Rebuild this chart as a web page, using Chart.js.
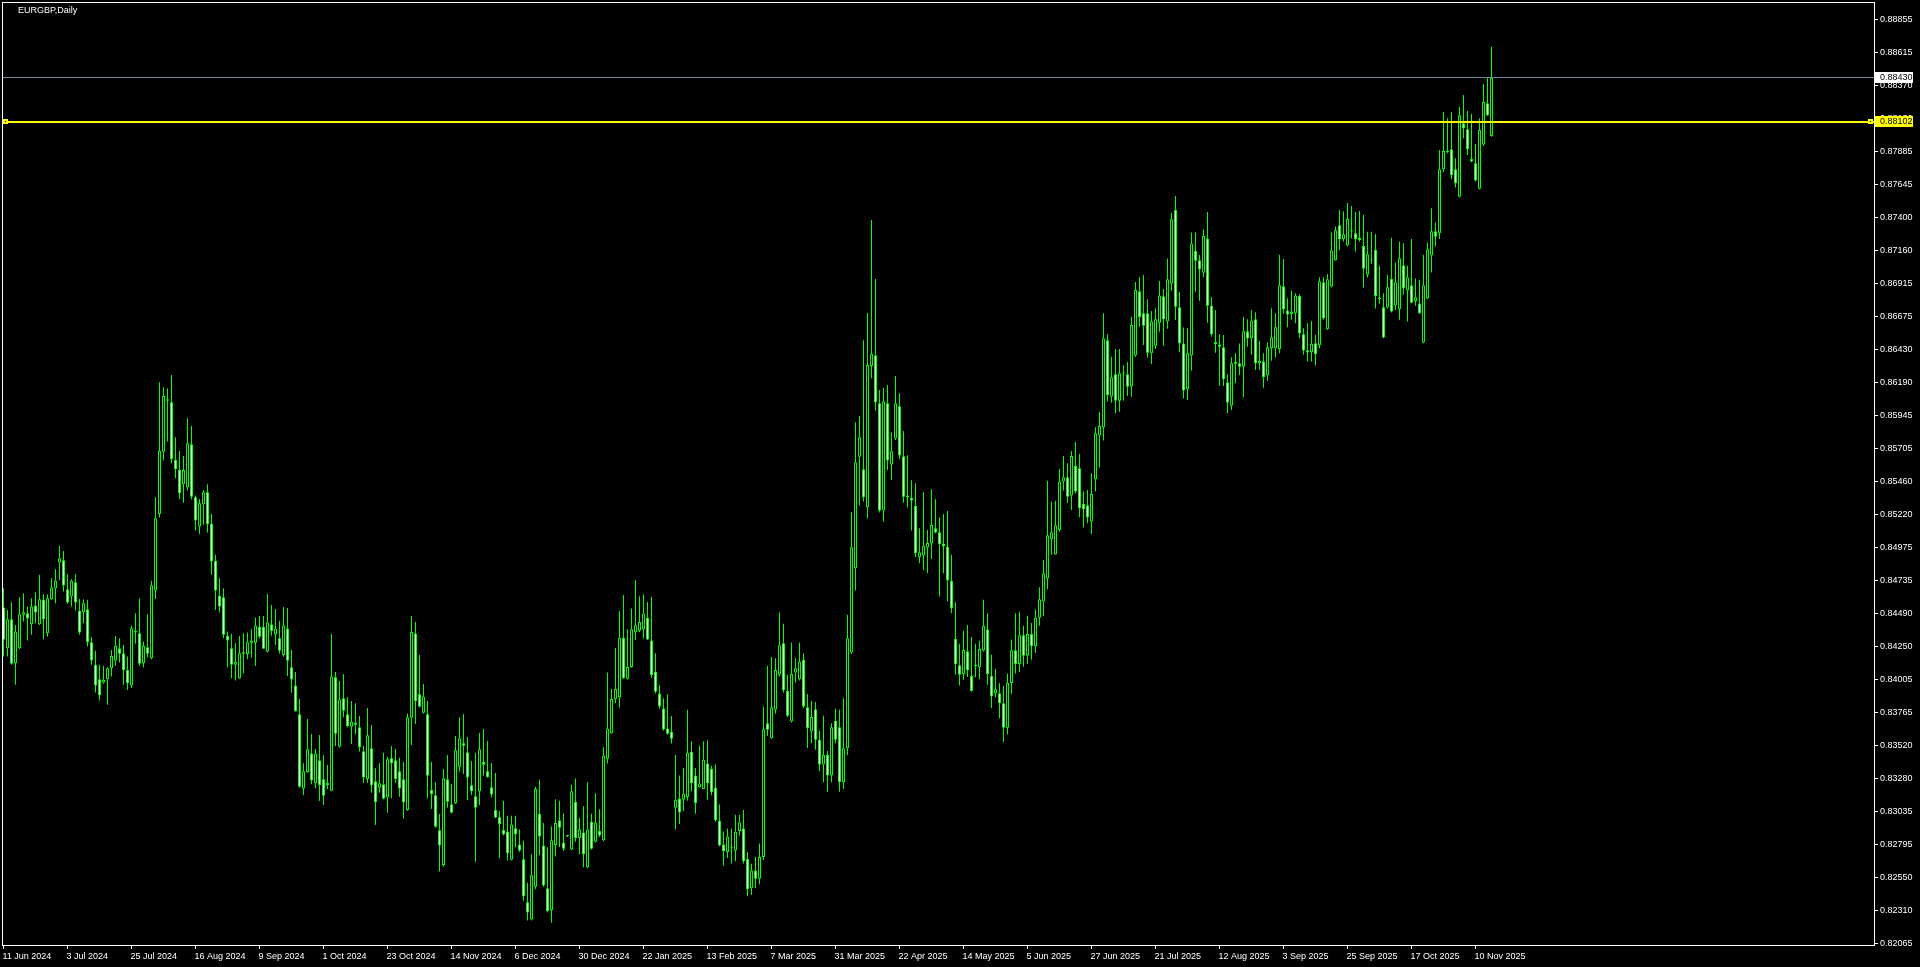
<!DOCTYPE html>
<html>
<head>
<meta charset="utf-8">
<title>EURGBP,Daily</title>
<script src="https://cdn.jsdelivr.net/npm/chart.js@4.4.1/dist/chart.umd.min.js"></script>
<style>
html, body { margin: 0; padding: 0; background: #000; overflow: hidden; }
canvas { display: block; }
</style>
</head>
<body>
<canvas id="chart" width="1920" height="967"></canvas>
<script>
const chartTitle = 'EURGBP,Daily';

// date labels under the chart, one every 16 daily bars
const dateLabels = ['11 Jun 2024', '3 Jul 2024', '25 Jul 2024', '16 Aug 2024', '9 Sep 2024', '1 Oct 2024',
    '23 Oct 2024', '14 Nov 2024', '6 Dec 2024', '30 Dec 2024', '22 Jan 2025', '13 Feb 2025', '7 Mar 2025',
    '31 Mar 2025', '22 Apr 2025', '14 May 2025', '5 Jun 2025', '27 Jun 2025', '21 Jul 2025', '12 Aug 2025',
    '3 Sep 2025', '25 Sep 2025', '17 Oct 2025', '10 Nov 2025'];
const barsPerLabel = 16;

// price scale labels on the right
const priceTicks = [0.88855, 0.88615, 0.88370, 0.88130, 0.87885, 0.87645, 0.87400, 0.87160, 0.86915, 0.86675,
    0.86430, 0.86190, 0.85945, 0.85705, 0.85460, 0.85220, 0.84975, 0.84735, 0.84490, 0.84250, 0.84005, 0.83765,
    0.83520, 0.83280, 0.83035, 0.82795, 0.82550, 0.82310, 0.82065];

const bidPrice = 0.88430;
const hlinePrice = 0.88102;

// daily OHLC
const opens = [
    0.84537,0.84236,0.84449,0.84125,0.84236,0.84481,0.84493,0.84412,0.84549,0.84412,
    0.84591,0.84346,0.84596,0.84674,0.84865,0.84883,0.84669,0.84615,0.84721,0.84510,
    0.84500,0.84522,0.84280,0.84113,0.84008,0.83983,0.84008,0.84089,0.84145,0.84236,
    0.84199,0.84076,0.83961,0.84363,0.84346,0.84125,0.84243,0.84162,0.84660,0.85223,
    0.85681,0.86066,0.86044,0.85620,0.85546,0.85441,0.85417,0.85735,0.85346,0.85130,
    0.85294,0.85382,0.85150,0.84878,0.84620,0.84611,0.84326,0.84236,0.84113,0.84015,
    0.84194,0.84192,0.84276,0.84276,0.84393,0.84393,0.84210,0.84411,0.84337,0.84308,
    0.84185,0.84381,0.84095,0.83962,0.83749,0.83203,0.83325,0.83462,0.83242,0.83411,
    0.83271,0.83230,0.83188,0.84021,0.83511,0.83867,0.83749,0.83658,0.83690,0.83654,
    0.83477,0.83274,0.83499,0.83257,0.83210,0.83235,0.83137,0.83426,0.83411,0.83330,
    0.83271,0.83046,0.83725,0.84344,0.83896,0.83761,0.83749,0.83193,0.83154,0.82897,
    0.82642,0.83271,0.83088,0.83095,0.83364,0.83536,0.83470,0.83227,0.83146,0.83181,
    0.83399,0.83330,0.83213,0.83046,0.82992,0.82898,0.82888,0.82679,0.82912,0.82792,
    0.82683,0.82368,0.82241,0.82481,0.83018,0.82785,0.82470,0.82309,0.82789,0.82970,
    0.82806,0.82854,0.82755,0.83104,0.82840,0.82881,0.82624,0.82960,0.82813,0.82891,
    0.82823,0.83422,0.83611,0.83860,0.83874,0.84312,0.84011,0.84097,0.84353,0.84364,
    0.84374,0.84460,0.84292,0.84062,0.83902,0.83792,0.83645,0.83621,0.83063,0.83131,
    0.83121,0.83141,0.83474,0.83299,0.83213,0.83200,0.83388,0.83347,0.83210,0.82967,
    0.82792,0.82737,0.82772,0.82748,0.82891,0.82909,0.82686,0.82470,0.82600,0.82540,
    0.82700,0.83684,0.83574,0.83782,0.84040,0.84272,0.83920,0.83697,0.84057,0.84008,
    0.84150,0.83802,0.83623,0.83787,0.83562,0.83380,0.83450,0.83300,0.83702,0.83655,
    0.83250,0.83500,0.84204,0.84824,0.85644,0.85551,0.85272,0.86310,0.86390,0.86036,
    0.85248,0.86036,0.85586,0.85777,0.86014,0.85647,0.85358,0.85341,0.85282,0.84905,
    0.84917,0.84976,0.85005,0.85118,0.85088,0.85003,0.84981,0.84731,0.84304,0.84111,
    0.84045,0.84214,0.84032,0.84101,0.84096,0.84219,0.84375,0.84032,0.83905,0.83905,
    0.83831,0.83650,0.83980,0.84220,0.84120,0.84330,0.84180,0.84340,0.84250,0.84460,
    0.84579,0.84748,0.85037,0.84924,0.85105,0.85461,0.85493,0.85358,0.85576,0.85559,
    0.85297,0.85287,0.85167,0.85478,0.85799,0.85858,0.86500,0.86085,0.86250,0.86056,
    0.86255,0.86250,0.86159,0.86387,0.86860,0.86698,0.86698,0.86404,0.86460,0.86629,
    0.86823,0.86637,0.86916,0.87457,0.86742,0.86477,0.86139,0.86387,0.87156,0.87088,
    0.86997,0.87249,0.86754,0.86487,0.86468,0.86448,0.86191,0.86019,0.86328,0.86330,
    0.86306,0.86566,0.86515,0.86655,0.86331,0.86344,0.86240,0.86442,0.86442,0.86434,
    0.86897,0.86719,0.86692,0.86699,0.86826,0.86545,0.86427,0.86412,0.86478,0.86464,
    0.86927,0.86581,0.86895,0.87091,0.87346,0.87245,0.87196,0.87309,0.87287,0.87253,
    0.87194,0.86981,0.87091,0.87164,0.86814,0.86743,0.86741,0.86951,0.86755,0.86728,
    0.87052,0.86866,0.86905,0.86787,0.86770,0.86483,0.86807,0.87123,0.87302,0.87287,
    0.87757,0.87882,0.87904,0.87757,0.87556,0.88095,0.88051,0.87833,0.87801,0.87615,
    0.87939,0.88242,0.88002
];
const highs = [
    0.84677,0.84517,0.84574,0.84407,0.84611,0.84640,0.84542,0.84603,0.84647,0.84775,
    0.84633,0.84633,0.84750,0.84816,0.84988,0.84951,0.84782,0.84743,0.84782,0.84598,
    0.84596,0.84591,0.84317,0.84216,0.84113,0.84106,0.84096,0.84223,0.84326,0.84309,
    0.84260,0.84174,0.84400,0.84493,0.84603,0.84285,0.84486,0.84731,0.85345,0.86191,
    0.86154,0.86147,0.86245,0.85787,0.85686,0.85649,0.85926,0.85870,0.85358,0.85333,
    0.85399,0.85441,0.85223,0.84922,0.84750,0.84677,0.84358,0.84341,0.84272,0.84326,
    0.84346,0.84351,0.84374,0.84462,0.84472,0.84472,0.84634,0.84553,0.84523,0.84435,
    0.84538,0.84531,0.84222,0.84060,0.83862,0.83389,0.83715,0.83605,0.83494,0.83597,
    0.83448,0.83377,0.84340,0.84060,0.83994,0.84046,0.83874,0.83847,0.83830,0.83737,
    0.83516,0.83796,0.83671,0.83352,0.83389,0.83467,0.83438,0.83516,0.83494,0.83431,
    0.83399,0.83756,0.84472,0.84428,0.84185,0.83972,0.83847,0.83399,0.83252,0.83017,
    0.83345,0.83450,0.83237,0.83590,0.83727,0.83752,0.83583,0.83406,0.83467,0.83612,
    0.83641,0.83553,0.83391,0.83318,0.83039,0.83114,0.83004,0.83004,0.83004,0.82902,
    0.82820,0.82511,0.82720,0.83217,0.83268,0.82950,0.82772,0.82926,0.83124,0.83114,
    0.83021,0.82860,0.83234,0.83278,0.82987,0.83073,0.83251,0.83018,0.83169,0.83052,
    0.83508,0.84056,0.83936,0.84237,0.84508,0.84627,0.84374,0.84528,0.84737,0.84617,
    0.84631,0.84576,0.84614,0.84199,0.83963,0.83867,0.83895,0.83737,0.83450,0.83299,
    0.83354,0.83782,0.83552,0.83354,0.83518,0.83552,0.83559,0.83371,0.83381,0.83087,
    0.82888,0.82909,0.82909,0.83011,0.83011,0.83046,0.82737,0.82650,0.82700,0.82800,
    0.83807,0.84106,0.84170,0.84162,0.84498,0.84415,0.84040,0.84277,0.84162,0.84277,
    0.84199,0.83898,0.83849,0.83839,0.83628,0.83738,0.83480,0.83684,0.83790,0.83782,
    0.83868,0.84481,0.85235,0.85897,0.85943,0.86500,0.86700,0.87384,0.86950,0.86134,
    0.86149,0.86171,0.85823,0.86237,0.86110,0.85833,0.85654,0.85471,0.85448,0.85118,
    0.85385,0.85105,0.85404,0.85333,0.85199,0.85223,0.85245,0.84922,0.84574,0.84268,
    0.84363,0.84407,0.84317,0.84268,0.84290,0.84591,0.84493,0.84187,0.84084,0.83979,
    0.83960,0.84050,0.84300,0.84493,0.84503,0.84400,0.84474,0.84420,0.84520,0.84684,
    0.84885,0.85466,0.85314,0.85319,0.85554,0.85649,0.85595,0.85686,0.85752,0.85664,
    0.85387,0.85399,0.85522,0.85860,0.85973,0.86698,0.86546,0.86379,0.86436,0.86436,
    0.86316,0.86340,0.86673,0.86928,0.86963,0.86980,0.86801,0.86715,0.86735,0.86936,
    0.86877,0.87102,0.87438,0.87560,0.86855,0.86593,0.86588,0.87293,0.87293,0.87127,
    0.87315,0.87443,0.86816,0.86722,0.86544,0.86539,0.86250,0.86375,0.86404,0.86477,
    0.86673,0.86654,0.86723,0.86706,0.86496,0.86405,0.86486,0.86736,0.86699,0.87128,
    0.87098,0.86809,0.86866,0.86846,0.86839,0.86589,0.86625,0.86643,0.86540,0.86964,
    0.86964,0.86988,0.87292,0.87336,0.87458,0.87449,0.87510,0.87488,0.87444,0.87451,
    0.87422,0.87297,0.87297,0.87282,0.87047,0.86846,0.86981,0.87253,0.87071,0.87226,
    0.87213,0.87047,0.87245,0.86954,0.86944,0.87128,0.87218,0.87471,0.87365,0.87899,
    0.88179,0.88132,0.88176,0.87838,0.88216,0.88304,0.88186,0.88164,0.87944,0.88132,
    0.88385,0.88434,0.88659
];
const lows = [
    0.84174,0.84174,0.84113,0.83966,0.84230,0.84432,0.84292,0.84334,0.84419,0.84407,
    0.84302,0.84321,0.84591,0.84566,0.84738,0.84652,0.84562,0.84542,0.84513,0.84334,
    0.84419,0.84248,0.84113,0.83910,0.83851,0.83974,0.83819,0.84027,0.84106,0.84130,
    0.83966,0.83929,0.83942,0.84268,0.84106,0.84094,0.84167,0.84155,0.84598,0.85196,
    0.85615,0.85755,0.85595,0.85485,0.85331,0.85306,0.85395,0.85331,0.85101,0.85076,
    0.85142,0.85086,0.84775,0.84517,0.84498,0.84309,0.84096,0.84015,0.83998,0.84010,
    0.84052,0.84155,0.84168,0.84104,0.84308,0.84229,0.84205,0.84327,0.84259,0.84197,
    0.84173,0.84031,0.83908,0.83769,0.83210,0.83156,0.83320,0.83235,0.83205,0.83112,
    0.83083,0.83198,0.83183,0.83516,0.83506,0.83727,0.83654,0.83531,0.83605,0.83475,
    0.83247,0.83247,0.83173,0.82936,0.83173,0.83124,0.83026,0.83132,0.83247,0.83144,
    0.82982,0.83041,0.83524,0.83678,0.83801,0.83756,0.83132,0.83053,0.82916,0.82593,
    0.82629,0.83063,0.83021,0.83090,0.83328,0.83311,0.83119,0.83156,0.82666,0.83083,
    0.83298,0.83284,0.83137,0.82985,0.82691,0.82858,0.82676,0.82676,0.82772,0.82737,
    0.82378,0.82234,0.82234,0.82463,0.82713,0.82481,0.82292,0.82217,0.82703,0.82772,
    0.82744,0.82848,0.82750,0.82813,0.82720,0.82624,0.82618,0.82755,0.82806,0.82847,
    0.82818,0.83388,0.83606,0.83833,0.83799,0.84011,0.84006,0.84092,0.84295,0.84353,
    0.84306,0.84295,0.84018,0.83902,0.83792,0.83628,0.83600,0.83535,0.82902,0.82943,
    0.83039,0.83114,0.83183,0.83018,0.83210,0.83200,0.83121,0.83155,0.82960,0.82779,
    0.82635,0.82693,0.82652,0.82669,0.82858,0.82652,0.82412,0.82420,0.82470,0.82500,
    0.82680,0.83591,0.83569,0.83753,0.84027,0.83910,0.83729,0.83689,0.83983,0.83998,
    0.83795,0.83501,0.83537,0.83488,0.83330,0.83250,0.83180,0.83250,0.83537,0.83180,
    0.83200,0.83450,0.84194,0.84660,0.85284,0.85314,0.85189,0.86220,0.85983,0.85233,
    0.85167,0.85546,0.85473,0.85767,0.85625,0.85306,0.85270,0.85101,0.84905,0.84860,
    0.84811,0.84787,0.84892,0.85081,0.84615,0.84787,0.84579,0.84493,0.84040,0.83961,
    0.84003,0.84023,0.83917,0.84020,0.84008,0.84211,0.83966,0.83795,0.83873,0.83721,
    0.83545,0.83600,0.83900,0.84050,0.84060,0.84100,0.84120,0.84150,0.84200,0.84400,
    0.84473,0.84669,0.84922,0.84922,0.85093,0.85395,0.85306,0.85252,0.85375,0.85199,
    0.85123,0.85154,0.85076,0.85387,0.85564,0.85762,0.86049,0.86041,0.85963,0.85975,
    0.86056,0.86090,0.86085,0.86379,0.86600,0.86465,0.86372,0.86326,0.86436,0.86563,
    0.86460,0.86585,0.86865,0.86649,0.86411,0.86071,0.86061,0.86277,0.86857,0.86791,
    0.86963,0.86629,0.86526,0.86409,0.86166,0.86164,0.85963,0.85987,0.86183,0.86245,
    0.86081,0.86453,0.86393,0.86282,0.86282,0.86150,0.86200,0.86349,0.86373,0.86405,
    0.86694,0.86596,0.86650,0.86625,0.86515,0.86393,0.86344,0.86344,0.86314,0.86442,
    0.86650,0.86576,0.86890,0.87086,0.87164,0.87226,0.87190,0.87250,0.87152,0.87226,
    0.86888,0.86961,0.87062,0.86733,0.86768,0.86515,0.86736,0.86704,0.86723,0.86650,
    0.86834,0.86638,0.86772,0.86753,0.86694,0.86478,0.86804,0.86998,0.87189,0.87245,
    0.87735,0.87875,0.87686,0.87623,0.87551,0.87985,0.87863,0.87809,0.87669,0.87610,
    0.87929,0.88149,0.87997
];
const closes = [
    0.84297,0.84449,0.84121,0.84358,0.84486,0.84500,0.84454,0.84542,0.84498,0.84596,
    0.84449,0.84603,0.84682,0.84731,0.84897,0.84696,0.84571,0.84731,0.84571,0.84351,
    0.84566,0.84280,0.84145,0.83961,0.83890,0.84003,0.84089,0.84179,0.84253,0.84194,
    0.84076,0.83978,0.84383,0.84351,0.84121,0.84253,0.84194,0.84699,0.85191,0.85686,
    0.86090,0.86056,0.85625,0.85551,0.85375,0.85546,0.85742,0.85350,0.85174,0.85301,
    0.85382,0.85147,0.84873,0.84660,0.84542,0.84334,0.84292,0.84113,0.84135,0.84199,
    0.84206,0.84280,0.84293,0.84403,0.84320,0.84232,0.84425,0.84362,0.84381,0.84217,
    0.84403,0.84144,0.84006,0.83774,0.83217,0.83330,0.83492,0.83262,0.83462,0.83230,
    0.83151,0.83244,0.84028,0.83607,0.83859,0.83776,0.83663,0.83695,0.83673,0.83507,
    0.83284,0.83595,0.83227,0.83102,0.83242,0.83129,0.83418,0.83389,0.83274,0.83203,
    0.83100,0.83727,0.84354,0.83845,0.83805,0.83881,0.83298,0.83161,0.82923,0.82784,
    0.83279,0.83107,0.83026,0.83485,0.83573,0.83519,0.83284,0.83183,0.83063,0.83492,
    0.83379,0.83286,0.83159,0.82990,0.82943,0.82868,0.82727,0.82939,0.82868,0.82748,
    0.82412,0.82292,0.82566,0.83200,0.82851,0.82491,0.82303,0.82823,0.82950,0.82915,
    0.82761,0.82854,0.83183,0.82840,0.82905,0.82720,0.82902,0.82761,0.82953,0.82858,
    0.83446,0.83645,0.83864,0.83936,0.84312,0.84015,0.84097,0.84374,0.84405,0.84429,
    0.84490,0.84299,0.84039,0.83915,0.83806,0.83638,0.83607,0.83569,0.83121,0.83028,
    0.83165,0.83467,0.83244,0.83097,0.83241,0.83415,0.83244,0.83176,0.82970,0.82785,
    0.82744,0.82851,0.82765,0.82885,0.82953,0.82669,0.82463,0.82600,0.82540,0.82700,
    0.83640,0.83635,0.83802,0.84076,0.84258,0.83925,0.83738,0.84045,0.84089,0.84138,
    0.83807,0.83648,0.83729,0.83562,0.83380,0.83450,0.83300,0.83655,0.83562,0.83250,
    0.83500,0.84309,0.84978,0.85603,0.85787,0.85346,0.86318,0.86400,0.86044,0.85248,
    0.86051,0.85615,0.85684,0.86036,0.85652,0.85350,0.85343,0.85321,0.84934,0.84941,
    0.84988,0.85010,0.85142,0.85086,0.85000,0.84983,0.84733,0.84530,0.84118,0.84040,
    0.84223,0.84074,0.83920,0.84113,0.84231,0.84400,0.84045,0.83880,0.83934,0.83831,
    0.83650,0.83980,0.84220,0.84120,0.84330,0.84180,0.84340,0.84250,0.84460,0.84596,
    0.84787,0.85066,0.85088,0.85140,0.85461,0.85493,0.85350,0.85649,0.85387,0.85265,
    0.85257,0.85196,0.85370,0.85816,0.85870,0.86514,0.86095,0.86228,0.86056,0.86257,
    0.86259,0.86159,0.86612,0.86869,0.86669,0.86607,0.86409,0.86639,0.86654,0.86830,
    0.86654,0.86948,0.87389,0.86747,0.86477,0.86130,0.86404,0.87212,0.87085,0.87021,
    0.87266,0.86754,0.86544,0.86470,0.86453,0.86213,0.86041,0.86330,0.86340,0.86306,
    0.86566,0.86512,0.86645,0.86331,0.86349,0.86230,0.86449,0.86523,0.86596,0.86905,
    0.86728,0.86689,0.86709,0.86829,0.86552,0.86425,0.86410,0.86474,0.86398,0.86934,
    0.86662,0.86949,0.87162,0.87309,0.87243,0.87280,0.87392,0.87299,0.87243,0.87238,
    0.87025,0.87133,0.87086,0.86826,0.86804,0.86520,0.86890,0.86711,0.86927,0.87103,
    0.86883,0.86964,0.86775,0.86817,0.86699,0.86905,0.87169,0.87302,0.87262,0.87757,
    0.87892,0.87892,0.87713,0.87654,0.88154,0.88059,0.87904,0.87814,0.87674,0.88046,
    0.88252,0.88154,0.88430
];

const FONT = '"Liberation Sans", Arial, sans-serif';
const LIME = '#00ff00';

// frame, title, bid line, horizontal line and their price boxes
const terminalOverlay = {
    id: 'terminalOverlay',
    afterDraw(chart) {
        const { ctx, chartArea: a, scales: { y } } = chart;
        ctx.save();

        // bid line
        const by = Math.floor(y.getPixelForValue(bidPrice));
        ctx.fillStyle = '#778899';
        ctx.fillRect(a.left, by, a.right - a.left, 1);

        // yellow horizontal line with anchor points
        const hy = Math.round(y.getPixelForValue(hlinePrice));
        ctx.fillStyle = '#ffff00';
        ctx.fillRect(a.left, hy - 1, a.right - a.left, 2);
        [a.left, a.right - 6].forEach(px => {
            ctx.fillStyle = '#ffff00';
            ctx.fillRect(px, hy - 3, 5, 5);
            ctx.fillStyle = '#000';
            ctx.fillRect(px + 2, hy - 1, 1, 1);
        });

        // frame
        ctx.fillStyle = '#ffffff';
        ctx.fillRect(a.left - 1, a.top - 1, a.right - a.left + 2, 1);
        ctx.fillRect(a.left - 1, a.bottom, a.right - a.left + 2, 1);
        ctx.fillRect(a.left - 1, a.top - 1, 1, a.bottom - a.top + 2);
        ctx.fillRect(a.right, a.top - 1, 1, a.bottom - a.top + 2);

        // price boxes on the scale
        ctx.font = '9px ' + FONT;
        ctx.textBaseline = 'middle';
        ctx.textAlign = 'left';
        [[bidPrice, by, '#ffffff'], [hlinePrice, hy - 1, '#ffff00']].forEach(([v, py, bg]) => {
            ctx.fillStyle = bg;
            ctx.fillRect(a.right + 1, py - 5, 38, 11);
            ctx.fillStyle = '#000';
            ctx.fillText(v.toFixed(5), a.right + 6, py + 0.5);
        });

        // symbol and timeframe
        ctx.fillStyle = '#ffffff';
        ctx.fillText(chartTitle, 18, 11);
        ctx.restore();
    }
};

const barIndex = closes.map((_, i) => i);

new Chart(document.getElementById('chart'), {
    type: 'bar',
    data: {
        datasets: [{
            label: 'bodies',
            data: barIndex.map(i => ({ x: i, y: [opens[i], closes[i]] })),
            backgroundColor: barIndex.map(i => closes[i] >= opens[i] ? '#000000' : '#ffffff'),
            borderColor: LIME,
            borderWidth: 1,
            borderSkipped: false,
            barThickness: 3,
            minBarLength: 1,
            inflateAmount: 0,
            grouped: false,
            order: 0
        }, {
            label: 'wicks',
            data: barIndex.map(i => ({ x: i, y: [lows[i], highs[i]] })),
            backgroundColor: LIME,
            borderWidth: 0,
            barThickness: 1,
            inflateAmount: 0,
            grouped: false,
            order: 1
        }]
    },
    options: {
        responsive: false,
        animation: false,
        devicePixelRatio: 1,
        events: [],
        layout: { padding: { left: 3, top: 3, right: 0, bottom: 0 } },
        plugins: { legend: { display: false }, tooltip: { enabled: false } },
        scales: {
            x: {
                type: 'linear',
                min: -0.125,
                max: 467.625,
                offset: false,
                afterBuildTicks: s => { s.ticks = dateLabels.map((_, k) => ({ value: k * barsPerLabel })); },
                afterFit: s => { s.height = 22; s.paddingLeft = 0; s.paddingRight = 0; },
                ticks: {
                    color: '#ffffff',
                    font: { family: FONT, size: 9 },
                    align: 'start',
                    labelOffset: -1,
                    padding: 2,
                    maxRotation: 0,
                    autoSkip: false,
                    callback: (v, k) => dateLabels[k]
                },
                grid: { drawOnChartArea: false, drawTicks: true, tickLength: 4, tickColor: '#ffffff', offset: false },
                border: { display: false }
            },
            y: {
                type: 'linear',
                position: 'right',
                min: 0.82053,
                max: 0.88980,
                afterBuildTicks: s => { s.ticks = priceTicks.map(v => ({ value: v })); },
                afterFit: s => { s.width = 46; s.paddingTop = 0; s.paddingBottom = 0; },
                ticks: {
                    color: '#ffffff',
                    font: { family: FONT, size: 9 },
                    padding: 2,
                    autoSkip: false,
                    callback: v => v.toFixed(5)
                },
                grid: { drawOnChartArea: false, drawTicks: true, tickLength: 4, tickColor: '#ffffff' },
                border: { display: false }
            }
        }
    },
    plugins: [terminalOverlay]
});
</script>
</body>
</html>
